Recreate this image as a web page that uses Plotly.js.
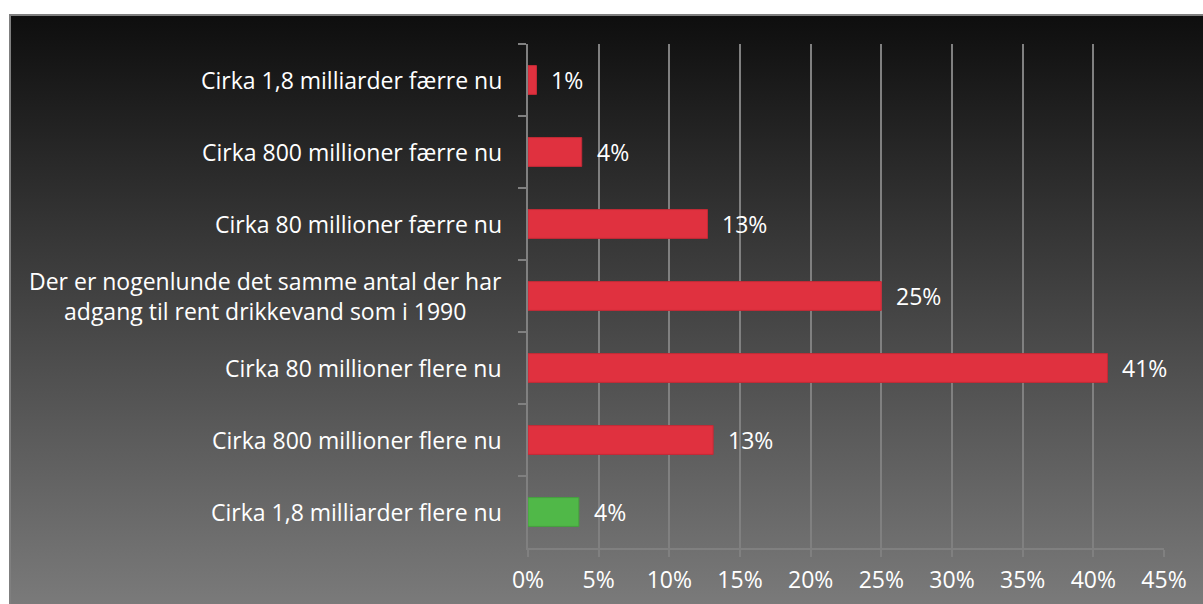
<!DOCTYPE html>
<html>
<head>
<meta charset="utf-8">
<script src="https://cdn.plot.ly/plotly-3.0.1.min.js"></script>
<style>
  html, body { margin: 0; padding: 0; background: #ffffff; }
  #wrap { position: relative; width: 1203px; height: 604px; overflow: hidden; }
  #panel { position: absolute; left: 9px; top: 14px; width: 1194px; height: 590px;
           box-sizing: border-box; border-top: 2px solid #7f7f7f; border-left: 2px solid #7f7f7f;
           background: linear-gradient(to bottom, #0e0e0e 0%, #7a7a7a 100%); }
  #chart { position: absolute; left: 0; top: 0; width: 1203px; height: 604px; }
</style>
</head>
<body>
<div id="wrap">
  <div id="panel"></div>
  <div id="chart"></div>
</div>
<script>
// Categories listed top to bottom
const categories = [
  "Cirka 1,8 milliarder færre nu",
  "Cirka 800 millioner færre nu",
  "Cirka 80 millioner færre nu",
  "Der er nogenlunde det samme antal der har<br>adgang til rent drikkevand som i 1990",
  "Cirka 80 millioner flere nu",
  "Cirka 800 millioner flere nu",
  "Cirka 1,8 milliarder flere nu"
];
const values = [0.6, 3.8, 12.7, 25.0, 41.0, 13.1, 3.6];
const valueLabels = ["1%", "4%", "13%", "25%", "41%", "13%", "4%"];
const barColors = ["#e0313f", "#e0313f", "#e0313f", "#e0313f", "#e0313f", "#e0313f", "#50b848"];
const lineColors = ["#c42a36", "#c42a36", "#c42a36", "#c42a36", "#c42a36", "#c42a36", "#45a03e"];
const xTicks = [0, 5, 10, 15, 20, 25, 30, 35, 40, 45];

const FONT = "'Open Sans', Lato, sans-serif";
const FS = 23;
const TXT = "#ffffff";

const trace = {
  type: "bar",
  orientation: "h",
  y: categories,
  x: values,
  marker: { color: barColors, line: { color: lineColors, width: 1 } },
  hoverinfo: "skip"
};

const annotations = [];
categories.forEach((c, i) => {
  annotations.push({
    x: 0, xref: "paper", y: c, yref: "y",
    xanchor: "right", yanchor: "middle", xshift: -24,
    text: c, showarrow: false, align: "center",
    font: { family: FONT, size: FS, color: TXT }
  });
  annotations.push({
    x: values[i], xref: "x", y: c, yref: "y",
    xanchor: "left", yanchor: "middle", xshift: 13,
    text: valueLabels[i], showarrow: false,
    font: { family: FONT, size: FS, color: TXT }
  });
});

const layout = {
  width: 1203, height: 604,
  margin: { l: 528, r: 39, t: 44, b: 56 },
  paper_bgcolor: "rgba(0,0,0,0)",
  plot_bgcolor: "rgba(0,0,0,0)",
  showlegend: false,
  bargap: 0.6,
  font: { family: FONT, size: FS, color: TXT },
  xaxis: {
    range: [0, 45],
    tickvals: xTicks,
    ticktext: xTicks.map(v => v + "%"),
    ticks: "outside", ticklen: 7, tickwidth: 2, tickcolor: "#808080",
    showgrid: true, gridcolor: "#808080", gridwidth: 2,
    showline: true, linecolor: "#808080", linewidth: 2,
    zeroline: false,
    tickfont: { family: FONT, size: FS, color: TXT },
    ticklabelstandoff: 3,
    fixedrange: true
  },
  yaxis: {
    type: "category",
    categoryorder: "array",
    categoryarray: categories,
    autorange: "reversed",
    showticklabels: false,
    ticks: "outside", tickson: "boundaries", ticklen: 8, tickwidth: 2, tickcolor: "#808080",
    showgrid: false,
    showline: true, linecolor: "#808080", linewidth: 2,
    zeroline: false,
    fixedrange: true
  },
  annotations: annotations
};

Plotly.newPlot("chart", [trace], layout, { displayModeBar: false, staticPlot: true });
</script>
</body>
</html>
